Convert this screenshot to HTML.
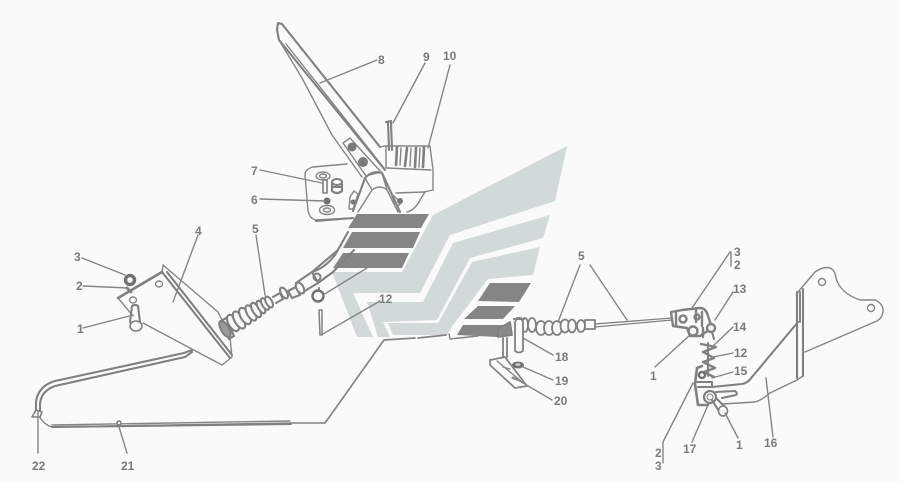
<!DOCTYPE html>
<html><head><meta charset="utf-8"><style>
html,body{margin:0;padding:0;background:#fafafa;width:900px;height:482px;overflow:hidden}
svg{display:block}
text{font-family:"Liberation Sans",sans-serif;font-size:12px;font-weight:bold;fill:#7a7a7a}
.l{fill:none;stroke:#858585;stroke-width:1.4;stroke-linejoin:round;stroke-linecap:round}
.t{fill:none;stroke:#808080;stroke-width:2.1;stroke-linejoin:round;stroke-linecap:round}
.f{fill:#fafafa;stroke:#808080;stroke-width:1.6;stroke-linejoin:round}
.d{fill:#858585}
.g{fill:#d1d9d9}
</style></head><body>
<svg width="900" height="482" viewBox="0 0 900 482" xmlns="http://www.w3.org/2000/svg">
<rect width="900" height="482" fill="#fafafa"/>
<!-- chevrons -->
<polygon class="g" points="567,146 555,201 450,235 420,293 353,293 373,337 357,337 332,272 402,272 433,215"/>
<polygon class="g" points="550,215 543,238 470,258 437,320 383,322 390,337 378,337 367,302 423,302 453,243"/>
<polygon class="g" points="540,247 533,275 488,279 453,325 447,335 393,335 388,323 438,323 472,262"/>
<!-- dark bars -->
<polygon class="d" points="357,214 429,214 421,228 348,228"/>
<polygon class="d" points="352,232 420,232 413,248 343,248"/>
<polygon class="d" points="343,253 409,253 402,268 333,268"/>
<polygon class="d" points="490,283 531,283 519,302 478,301"/>
<polygon class="d" points="478,306 515,306 503,319 464,319"/>
<polygon class="d" points="463,325 503,325 497,337 457,335"/>

<!-- pedal -->
<path class="t" d="M282,24 L380,147"/>
<path class="t" d="M282,24 L278,23 L277,30 L279,40 L385,170"/>
<path class="l" d="M279,40 L302,78 L332,135 L362,177"/>
<path class="l" d="M286,44 L384,168"/>
<path class="l" d="M343,143 L350,138 L381,172 L366,176 Z" fill="#fafafa"/>
<circle cx="352" cy="147" r="4.500" fill="#7a7a7a"/>
<circle cx="363" cy="162" r="5" fill="#7a7a7a"/>
<!-- plate -->
<path class="l" d="M347,164 L313,167 Q305,169 305,175 L308,211 Q310,219 316,220 L353,218"/>
<path class="t" d="M316,221 L353,218" stroke-width="2.5"/>
<ellipse class="l" cx="323" cy="176" rx="7" ry="4" stroke-width="2.2"/>
<ellipse class="l" cx="323" cy="176" rx="3.5" ry="2"/>
<ellipse class="l" cx="327" cy="210" rx="7.5" ry="4.5" stroke-width="2.2"/>
<ellipse class="l" cx="327" cy="210" rx="3.5" ry="2"/>
<circle cx="327" cy="201" r="3.5" fill="#707070"/>
<rect class="f" x="323" y="180" width="4" height="13"/>
<ellipse class="t" cx="337" cy="182" rx="5" ry="3"/>
<path class="t" d="M332,184 L332,191 Q337,195 342,191 L342,184 M332,187 L342,187"/>
<!-- box 10 -->
<path class="l" d="M380,147 L385,146 L430,146 L433,170 L433,190 L424,192 L396,193"/>
<path class="l" d="M387,168 L431,170 M386,146 L386,168"/>
<path class="t" d="M397,147 L396,165 M407,148 L405,166 M416,148 L415,167 M424,147 L423,167" style="stroke-width:2.6"/>
<path class="l" d="M401,148 L400,165 M411,148 L410,166 M420,148 L419,167"/>
<path class="l" d="M425,192 L420,200 Q415,210 407,212"/>
<!-- cone -->
<path class="t" d="M353,211 L365,178 Q372,170 382,173 L400,212"/>
<path class="l" d="M358,212 L372,190 Q380,184 387,190 L398,212 M365,178 L372,190 M382,173 L387,190"/>
<path class="l" d="M350,197 L354,191 L358,194 L353,209 L349,209 Z M393,195 L401,203 L398,206 L392,200 Z"/>
<circle cx="353" cy="202" r="2.500" fill="#777"/><circle cx="400" cy="201" r="3" fill="#777"/>
<!-- bolt 9 -->
<path class="t" d="M386,122 L391,121 M388,122 L389,150 M391,122 L392,150"/>

<!-- left bracket -->
<path class="t" d="M118,298 L162,272" style="stroke-width:2.6"/>
<path class="l" d="M118,298 L133,316 M162,272 L163,265 L218,312 L230,337 L232,357 L222,365 L143,323"/>
<path class="t" d="M162,272 L230,358 M167,272 L232,355"/>
<ellipse class="l" cx="159" cy="284" rx="3.5" ry="3"/>
<ellipse class="l" cx="133" cy="300" rx="3.5" ry="3"/>
<path class="t" d="M132,306 L130,322 M138,306 L140,322 M132,306 Q135,304 138,306"/>
<ellipse class="f" cx="136" cy="326" rx="6" ry="5"/>
<circle cx="130" cy="280" r="4.500" fill="none" stroke="#707070" stroke-width="3.400"/>
<path class="t" d="M127,288 L131,292" style="stroke-width:3"/>

<!-- cable loop -->
<path class="t" d="M192,350 L184,353 L55,381 Q38,386 36,402 L36,413 M192,352 L185,357 L55,386 Q41,391 40,404 L40,413"/>
<path class="l" d="M38,413 Q42,424 52,427 L292,423 M52,425 L290,421"/>
<path class="t" d="M52,427 L291,424"/>
<path d="M32,417 L36,410 L42,412 L40,417 Z" class="f"/>
<circle cx="119" cy="423" r="2" fill="#fafafa" stroke="#777" stroke-width="1.5"/>
<path class="t" d="M293,423 L325,423 L340,402" style="stroke-width:1.6"/>
<path class="l" d="M340,402 L384,340 L415,338 M418,338 L446,335" style="stroke-width:1.7"/>
<path class="l" d="M449,334 L450,339 L478,336"/>

<!-- left boot -->
<g class="t">
<path d="M221,321 L229,339 L234,336 L226,318 Z" fill="#fafafa"/>
<ellipse cx="225" cy="329" rx="4" ry="9" transform="rotate(-30 225 329)" fill="#9a9a9a"/>
<ellipse cx="233" cy="323" rx="4.500" ry="9" transform="rotate(-30 233 323)" fill="#fafafa"/>
<ellipse cx="239" cy="320" rx="4.500" ry="9.500" transform="rotate(-30 239 320)" fill="#fafafa"/>
<ellipse cx="245" cy="316" rx="4.500" ry="9" transform="rotate(-30 245 316)" fill="#fafafa"/>
<ellipse cx="251" cy="313" rx="4" ry="8.500" transform="rotate(-30 251 313)" fill="#fafafa"/>
<ellipse cx="256" cy="310" rx="3.500" ry="8" transform="rotate(-30 256 310)" fill="#fafafa"/>
<ellipse cx="261" cy="307" rx="3" ry="7" transform="rotate(-30 261 307)" fill="#fafafa"/>
<ellipse cx="265" cy="304" rx="3" ry="6.500" transform="rotate(-30 265 304)" fill="#fafafa"/>
<ellipse cx="269" cy="302" rx="3" ry="6" transform="rotate(-30 269 302)" fill="#fafafa"/>
<path d="M273,297 L280,293 L283,299 L276,303" fill="#fafafa"/>
<ellipse cx="284" cy="293" rx="3" ry="6" transform="rotate(-30 284 293)" fill="#fafafa"/>
<path d="M288,291 L296,287 L300,295 L292,298 Z" fill="#fafafa"/>
<path d="M296,283 L312,272 L318,283 L303,292 Z" fill="#fafafa"/>
<ellipse cx="300" cy="288" rx="3.5" ry="6" transform="rotate(-30 300 288)" fill="#fafafa"/>
</g>
<path class="t" d="M312,272 Q325,268 335,255 L348,232 M318,283 L333,272 L354,250 M312,272 L338,250"/>
<circle cx="317" cy="277" r="3.5" fill="none" stroke="#808080" stroke-width="2"/>
<circle cx="318" cy="296" r="5.5" fill="none" stroke="#707070" stroke-width="2.4"/>
<path class="t" d="M319,288 L319,290"/>
<path class="t" d="M319,310 L320,335 M322,310 L322,335 M319,310 L322,310" style="stroke-width:1.5"/>

<!-- right boot -->
<g class="t" style="stroke-width:1.8">
<path d="M498,329 L510,322 L512,335 L498,337 Z" fill="#8a8a8a"/>
<path d="M503,338 L503,357 M507,338 L507,357"/>
<ellipse cx="525" cy="325" rx="3" ry="7" fill="#fafafa"/>
<ellipse cx="532" cy="325" rx="4" ry="7" fill="#fafafa"/>
<ellipse cx="541" cy="328" rx="5" ry="7" fill="#fafafa"/>
<ellipse cx="549" cy="328" rx="5" ry="7" fill="#fafafa"/>
<ellipse cx="557" cy="328" rx="5" ry="7" fill="#fafafa"/>
<ellipse cx="565" cy="326" rx="4.5" ry="6.5" fill="#fafafa"/>
<ellipse cx="572" cy="326" rx="4" ry="6.5" fill="#fafafa"/>
<ellipse cx="581" cy="326" rx="4" ry="6" fill="#fafafa"/>
<rect x="585" y="320" width="10" height="9" fill="#fafafa"/>
<path d="M515,322 L515,351 Q519,354 523,351 L523,322 L521,318 L517,318 Z" fill="#fafafa"/>
</g>
<path class="t" d="M595,324 L672,318 M595,327 L672,320" style="stroke-width:1.3"/>
<path class="t" d="M514,319 L524,319"/>
<!-- bracket 20 -->
<path class="l" d="M505,357 L490,360 L490,365 L515,388 L527,386 Z" style="stroke-width:1.8"/>
<path class="l" d="M497,361 L522,382 M512,378 L520,381 M503,367 L510,369"/>
<ellipse cx="518" cy="365" rx="6" ry="3.5" fill="#757575"/>
<ellipse cx="518" cy="364.500" rx="2.500" ry="1.300" fill="#cfcfcf"/>

<!-- right clevis -->
<g class="t" style="stroke-width:2.4">
<path d="M671,312 L682,310 L700,308 Q706,308 708,316 L712,328 L700,336 L690,336 L687,328 L673,326 Z" fill="#fafafa"/>
<path d="M676,312 L676,326 M696,310 L696,322 M702,312 L702,326"/>
<circle cx="683" cy="319" r="3.5"/>
<circle cx="697" cy="317" r="2.5"/>
<circle cx="693" cy="331" r="4.5" fill="#fafafa"/>
<circle cx="711" cy="328" r="4" fill="#fafafa"/>
<path d="M703,328 L703,337"/>
</g>
<!-- spring -->
<path class="t" d="M712,332 L714,339 M708,343 L708,376"/>
<path class="t" d="M701,344 L716,347 L703,352 L714,358 L703,362 L715,368 L704,372 L714,377" style="stroke-width:2.4"/>
<!-- right small plate -->
<path class="t" d="M697,368 L695,384 L698,405 L708,405 M697,368 L702,366" style="stroke-width:2.6"/>
<path class="t" d="M697,382 L712,382 L712,387 L698,387"/>
<circle cx="702" cy="375" r="3" fill="none" stroke="#707070" stroke-width="2.4"/>
<!-- right bracket -->
<path class="l" d="M798,292 L815,272 Q824,266 830,268 Q835,270 836,278 Q840,293 860,300 L875,300 Q884,304 883,312 Q882,318 877,321 L805,352"/>
<circle cx="822" cy="282" r="3.5" class="l"/>
<circle cx="871" cy="308" r="3.5" class="l"/>
<path class="t" d="M797,292 L797,378 M803,289 L803,376"/>
<path class="l" d="M803,376 L797,380 L770,393 Q762,400 755,402 L723,404"/>
<path class="t" d="M798,322 L752,377 Q748,383 742,384 L712,387"/>
<path class="l" d="M800,292 L800,322" style="stroke-width:2"/>
<path class="t" d="M716,392 L735,391 Q738,393 736,395 L722,398"/>
<circle cx="710" cy="397" r="6" fill="none" stroke="#808080" stroke-width="2.2"/>
<circle cx="710" cy="397" r="3" fill="none" stroke="#808080" stroke-width="1"/>
<path class="t" d="M712,400 L720,413 M716,398 L726,408"/>
<ellipse cx="723" cy="411" rx="4.500" ry="5" class="f"/>

<!-- leaders -->
<g class="l">
<path d="M377,60 L320,83"/>
<path d="M425,63 L393,123"/>
<path d="M450,65 L428,148"/>
<path d="M260,170 L322,183"/>
<path d="M260,199 L325,201"/>
<path d="M82,258 L125,275"/>
<path d="M83,286 L128,288"/>
<path d="M83,328 L133,315"/>
<path d="M198,235 L173,302"/>
<path d="M256,235 L265,295"/>
<path d="M38,412 L38,453"/>
<path d="M119,427 L127,453"/>
<path d="M380,301 L321,335"/>
<path d="M367,268 L323,295"/>
<path d="M523,338 L553,355"/>
<path d="M523,367 L553,380"/>
<path d="M513,377 L552,400"/>
<path d="M580,265 L558,322"/>
<path d="M590,265 L627,320"/>
<path d="M730,252 L692,308"/>
<path d="M731,252 L731,266"/>
<path d="M733,292 L715,320"/>
<path d="M733,327 L712,347"/>
<path d="M733,353 L713,357"/>
<path d="M733,372 L712,378"/>
<path d="M690,335 L655,367"/>
<path d="M725,413 L738,438"/>
<path d="M708,405 L692,442"/>
<path d="M766,378 L773,437"/>
<path d="M693,383 L663,442 L663,463"/>
</g>

<!-- labels -->
<text x="378" y="64">8</text>
<text x="423" y="61">9</text>
<text x="443" y="60">10</text>
<text x="251" y="175">7</text>
<text x="251" y="204">6</text>
<text x="252" y="233">5</text>
<text x="195" y="235">4</text>
<text x="74" y="261">3</text>
<text x="76" y="290">2</text>
<text x="77" y="333">1</text>
<text x="32" y="470">22</text>
<text x="121" y="470">21</text>
<text x="379" y="303">12</text>
<text x="578" y="260">5</text>
<text x="734" y="256">3</text>
<text x="734" y="269">2</text>
<text x="733" y="293">13</text>
<text x="733" y="331">14</text>
<text x="734" y="357">12</text>
<text x="734" y="375">15</text>
<text x="650" y="380">1</text>
<text x="555" y="361">18</text>
<text x="555" y="385">19</text>
<text x="554" y="405">20</text>
<text x="764" y="447">16</text>
<text x="683" y="453">17</text>
<text x="736" y="449">1</text>
<text x="655" y="457">2</text>
<text x="655" y="470">3</text>
</svg>
</body></html>
